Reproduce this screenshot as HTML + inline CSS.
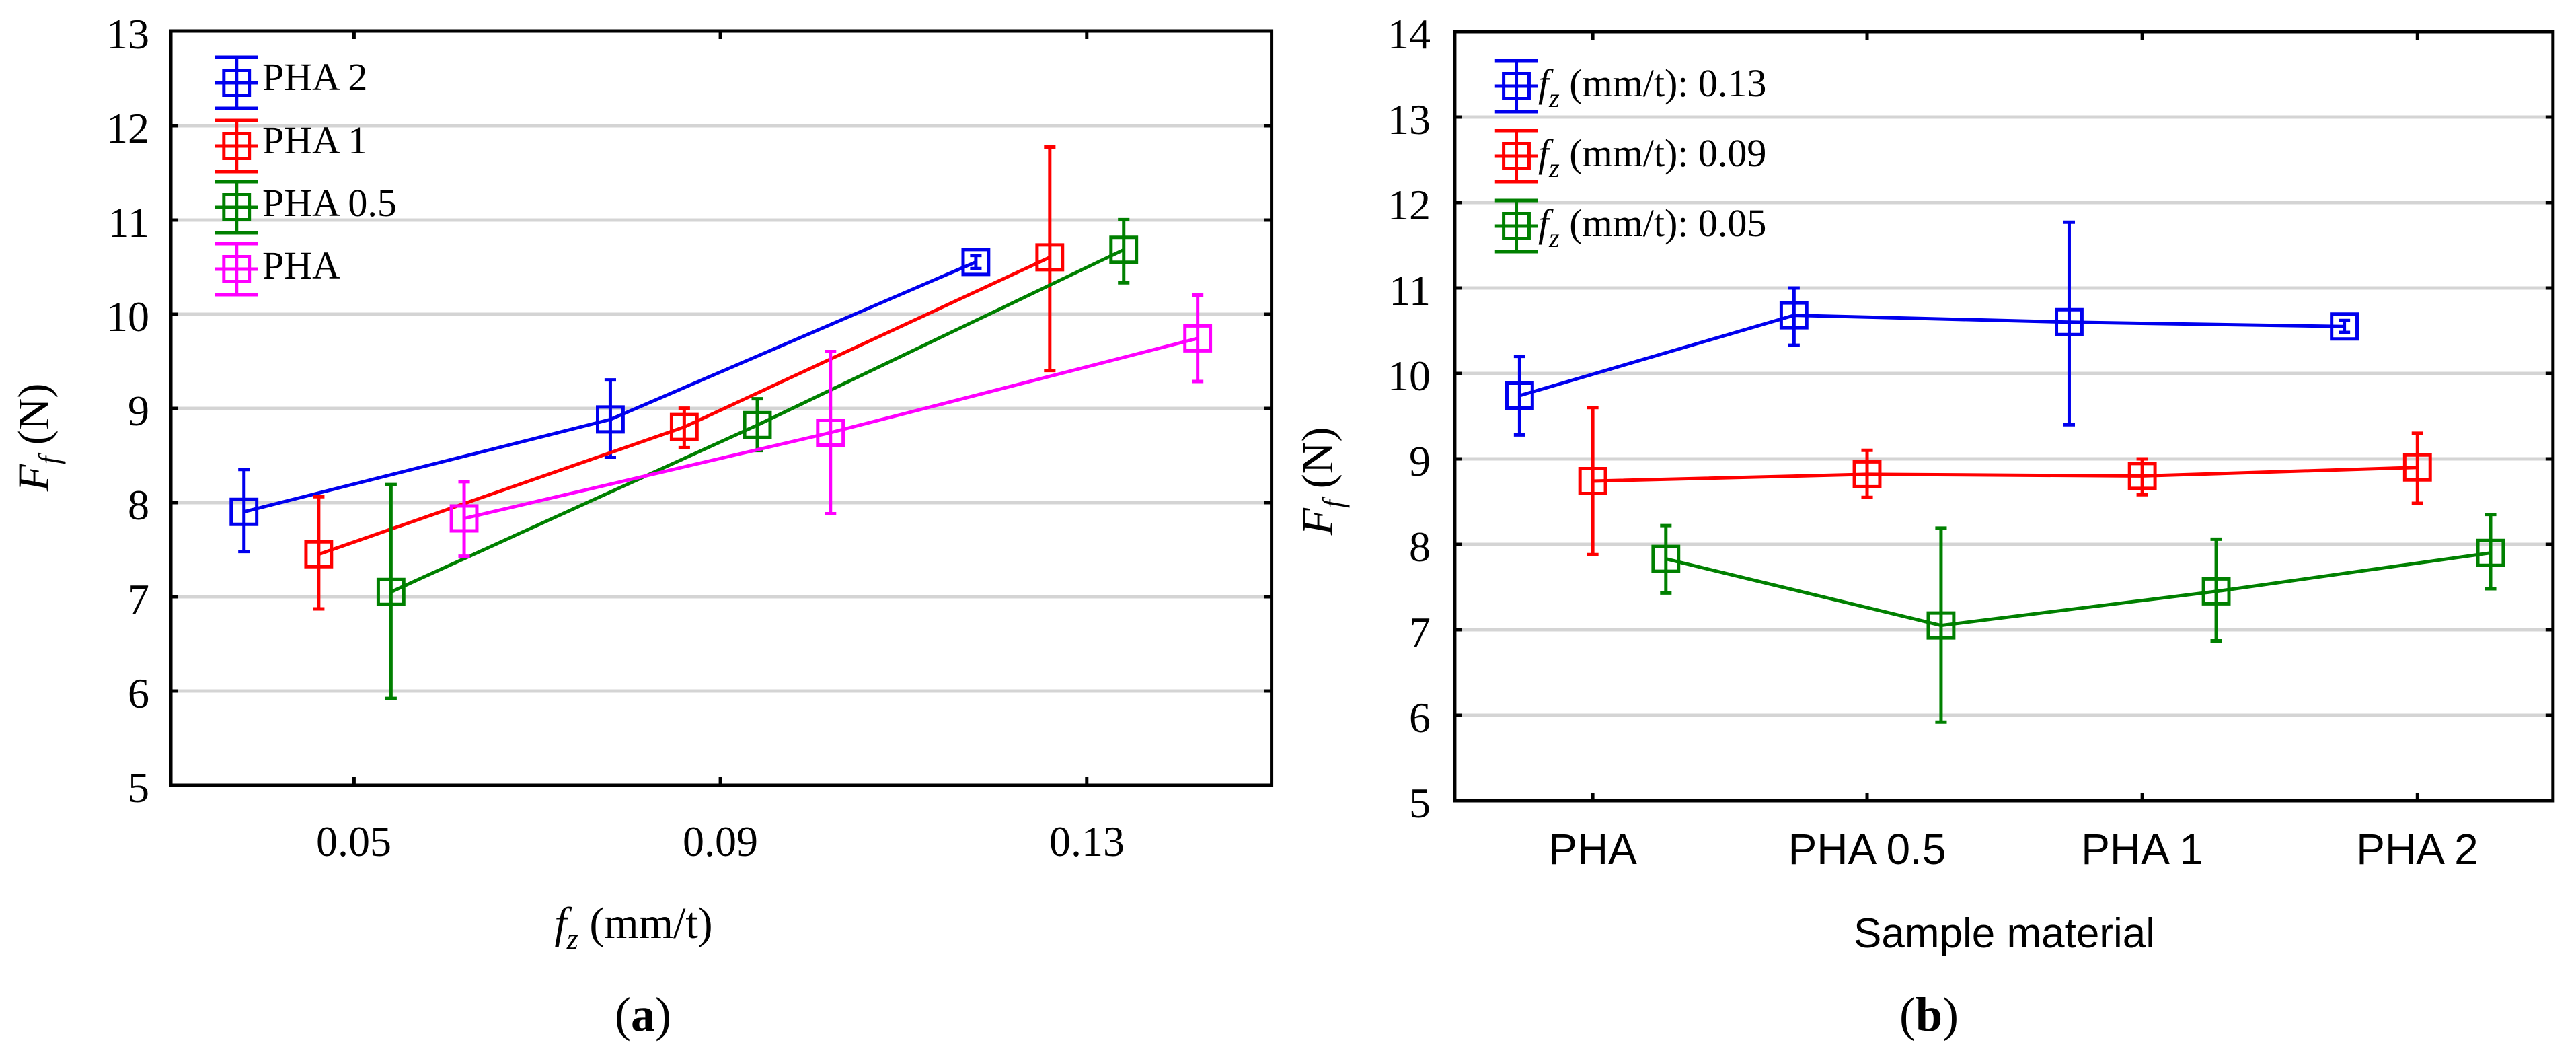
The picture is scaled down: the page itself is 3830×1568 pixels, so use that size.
<!DOCTYPE html>
<html><head><meta charset="utf-8"><style>
html,body{margin:0;padding:0;background:#fff;width:3830px;height:1568px;overflow:hidden;position:relative}
svg{position:absolute;top:0}
.s{font-family:"Liberation Serif",serif}
.a{font-family:"Liberation Sans",sans-serif}
path,line,rect,polyline{vector-effect:non-scaling-stroke}
</style></head><body>
<svg style="left:0" width="1915" height="1568" viewBox="0 0 1568 1568" preserveAspectRatio="none">
<path stroke="#d4d4d4" stroke-width="5" d="M208 1027H1548M208 887H1548M208 747H1548M208 607H1548M208 467H1548M208 327H1548M208 187H1548"/>
<path stroke="#000" stroke-width="5" d="M208 1027h9M208 887h9M208 747h9M208 607h9M208 467h9M208 327h9M208 187h9M1548 1027h-9M1548 887h-9M1548 747h-9M1548 607h-9M1548 467h-9M1548 327h-9M1548 187h-9M431 1167v-12M877 1167v-12M1323 1167v-12M431 46v12M877 46v12M1323 46v12"/>
<rect x="208" y="46" width="1340" height="1121" fill="none" stroke="#000" stroke-width="5"/>
<g fill="none" stroke-width="5">
<g stroke="#0000ee">
<polyline points="297,760.7 743,623.4 1188,389.4"/>
<path d="M297 697.7V819.6M290 697.7h14M290 819.6h14M743 564.6V679.5M736 564.6h14M736 679.5h14M1188 379.6V399.2M1181 379.6h14M1181 399.2h14"/>
<rect x="281.5" y="742.2" width="31" height="37"/><rect x="727.5" y="604.9" width="31" height="37"/><rect x="1172.5" y="370.9" width="31" height="37"/>
<path d="M288 85v76M262 85h52M262 161h52M262 123h52"/><rect x="272.5" y="104.5" width="31" height="37"/>
</g>
<g stroke="#ff0000">
<polyline points="388,823.8 833,634.6 1278,382.4"/>
<path d="M388 738.3V905M381 738.3h14M381 905h14M833 606.6V665.4M826 606.6h14M826 665.4h14M1278 218.5V550.6M1271 218.5h14M1271 550.6h14"/>
<rect x="372.5" y="805.3" width="31" height="37"/><rect x="817.5" y="616.1" width="31" height="37"/><rect x="1262.5" y="363.9" width="31" height="37"/>
<path d="M288 179v76M262 179h52M262 255h52M262 217h52"/><rect x="272.5" y="198.5" width="31" height="37"/>
</g>
<g stroke="#008000">
<polyline points="476,879.8 922,631.8 1368,371.2"/>
<path d="M476 720.1V1038.1M469 720.1h14M469 1038.1h14M922 592.6V669.6M915 592.6h14M915 669.6h14M1368 326.4V420.3M1361 326.4h14M1361 420.3h14"/>
<rect x="460.5" y="861.3" width="31" height="37"/><rect x="906.5" y="613.3" width="31" height="37"/><rect x="1352.5" y="352.7" width="31" height="37"/>
<path d="M288 270v76M262 270h52M262 346h52M262 308h52"/><rect x="272.5" y="289.5" width="31" height="37"/>
</g>
<g stroke="#ff00ff">
<polyline points="565,770.5 1011,643 1458,502.9"/>
<path d="M565 715.9V826.6M558 715.9h14M558 826.6h14M1011 522.5V763.5M1004 522.5h14M1004 763.5h14M1458 438.5V567M1451 438.5h14M1451 567h14"/>
<rect x="549.5" y="752" width="31" height="37"/><rect x="995.5" y="624.5" width="31" height="37"/><rect x="1442.5" y="484.4" width="31" height="37"/>
<path d="M288 362v76M262 362h52M262 438h52M262 400h52"/><rect x="272.5" y="381.5" width="31" height="37"/>
</g>
</g>
</svg>
<svg style="left:0" width="1915" height="1568" viewBox="0 0 1915 1568">
<g class="s" font-size="64" text-anchor="end">
<text x="222" y="72">13</text><text x="222" y="212">12</text><text x="222" y="352">11</text><text x="222" y="492">10</text><text x="222" y="632">9</text><text x="222" y="772">8</text><text x="222" y="912">7</text><text x="222" y="1052">6</text><text x="222" y="1192">5</text>
</g>
<g class="s" font-size="64" text-anchor="middle">
<text x="526" y="1272">0.05</text><text x="1071" y="1272">0.09</text><text x="1616" y="1272">0.13</text>
</g>
<text class="s" font-size="66" x="942" y="1394" text-anchor="middle"><tspan font-style="italic">f</tspan><tspan font-style="italic" font-size="44" dy="16">z</tspan><tspan dy="-16"> (mm/t)</tspan></text>
<text class="s" font-size="66" transform="translate(72,650) rotate(-90)" text-anchor="middle"><tspan font-style="italic">F</tspan><tspan font-style="italic" font-size="44" dy="16">f</tspan><tspan dy="-16"> (N)</tspan></text>
<text class="s" font-size="72" x="956" y="1532" text-anchor="middle">(<tspan font-weight="bold">a</tspan>)</text>
<g class="s" font-size="58">
<text x="390" y="134">PHA 2</text><text x="390" y="228">PHA 1</text><text x="390" y="321">PHA 0.5</text><text x="390" y="414">PHA</text>
</g>
</svg>

<svg style="left:1915px" width="1915" height="1568" viewBox="0 0 1568 1568" preserveAspectRatio="none">
<path stroke="#d4d4d4" stroke-width="5" d="M203 1063H1540M203 936H1540M203 809H1540M203 682H1540M203 555H1540M203 428H1540M203 301H1540M203 174H1540"/>
<path stroke="#000" stroke-width="5" d="M203 1063h9M203 936h9M203 809h9M203 682h9M203 555h9M203 428h9M203 301h9M203 174h9M1540 1063h-9M1540 936h-9M1540 809h-9M1540 682h-9M1540 555h-9M1540 428h-9M1540 301h-9M1540 174h-9M371 1190v-12M705 1190v-12M1040 1190v-12M1375 1190v-12M371 47v12M705 47v12M1040 47v12M1375 47v12"/>
<rect x="203" y="47" width="1337" height="1143" fill="none" stroke="#000" stroke-width="5"/>
<g fill="none" stroke-width="5">
<g stroke="#0000ee">
<polyline points="282,588 616,468.6 951,478.8 1286,485.2"/>
<path d="M282 529.6V646.4M275 529.6h14M275 646.4h14M616 428V513.1M609 428h14M609 513.1h14M951 330.2V631.2M944 330.2h14M944 631.2h14M1286 476.3V494M1279 476.3h14M1279 494h14"/>
<rect x="266.5" y="569.5" width="31" height="37"/><rect x="600.5" y="450.1" width="31" height="37"/><rect x="935.5" y="460.3" width="31" height="37"/><rect x="1270.5" y="466.7" width="31" height="37"/>
<path d="M278 90v76M252 90h52M252 166h52M252 128h52"/><rect x="262.5" y="109.5" width="31" height="37"/>
</g>
<g stroke="#ff0000">
<polyline points="371,715 705,704.9 1040,707.4 1375,694.7"/>
<path d="M371 605.8V824.2M364 605.8h14M364 824.2h14M705 669.3V739.2M698 669.3h14M698 739.2h14M1040 682V735.3M1033 682h14M1033 735.3h14M1375 643.9V748M1368 643.9h14M1368 748h14"/>
<rect x="355.5" y="696.5" width="31" height="37"/><rect x="689.5" y="686.4" width="31" height="37"/><rect x="1024.5" y="688.9" width="31" height="37"/><rect x="1359.5" y="676.2" width="31" height="37"/>
<path d="M278 194v76M252 194h52M252 270h52M252 232h52"/><rect x="262.5" y="213.5" width="31" height="37"/>
</g>
<g stroke="#008000">
<polyline points="460,830.6 795,929.6 1130,878.9 1464,821.7"/>
<path d="M460 781.1V881.4M453 781.1h14M453 881.4h14M795 784.9V1073.2M788 784.9h14M788 1073.2h14M1130 801.4V952.5M1123 801.4h14M1123 952.5h14M1464 764.6V875M1457 764.6h14M1457 875h14"/>
<rect x="444.5" y="812.1" width="31" height="37"/><rect x="779.5" y="911.1" width="31" height="37"/><rect x="1114.5" y="860.4" width="31" height="37"/><rect x="1448.5" y="803.2" width="31" height="37"/>
<path d="M278 298v76M252 298h52M252 374h52M252 336h52"/><rect x="262.5" y="317.5" width="31" height="37"/>
</g>
</g>
</svg>
<svg style="left:1915px" width="1915" height="1568" viewBox="0 0 1915 1568">
<g class="s" font-size="64" text-anchor="end">
<text x="212" y="72">14</text><text x="212" y="199">13</text><text x="212" y="326">12</text><text x="212" y="453">11</text><text x="212" y="580">10</text><text x="212" y="707">9</text><text x="212" y="834">8</text><text x="212" y="961">7</text><text x="212" y="1088">6</text><text x="212" y="1215">5</text>
</g>
<g class="a" font-size="64" text-anchor="middle">
<text x="453" y="1284">PHA</text><text x="861" y="1284">PHA 0.5</text><text x="1270" y="1284">PHA 1</text><text x="1679" y="1284">PHA 2</text>
</g>
<text class="a" font-size="62" x="1065" y="1408" text-anchor="middle">Sample material</text>
<text class="s" font-size="66" transform="translate(66,715) rotate(-90)" text-anchor="middle"><tspan font-style="italic">F</tspan><tspan font-style="italic" font-size="44" dy="16">f</tspan><tspan dy="-16"> (N)</tspan></text>
<text class="s" font-size="72" x="953" y="1532" text-anchor="middle">(<tspan font-weight="bold">b</tspan>)</text>
<g class="s" font-size="58">
<text x="372" y="143"><tspan font-style="italic">f</tspan><tspan font-style="italic" font-size="40" dy="16">z</tspan><tspan dy="-16"> (mm/t): 0.13</tspan></text>
<text x="372" y="247"><tspan font-style="italic">f</tspan><tspan font-style="italic" font-size="40" dy="16">z</tspan><tspan dy="-16"> (mm/t): 0.09</tspan></text>
<text x="372" y="351"><tspan font-style="italic">f</tspan><tspan font-style="italic" font-size="40" dy="16">z</tspan><tspan dy="-16"> (mm/t): 0.05</tspan></text>
</g>
</svg>
</body></html>
